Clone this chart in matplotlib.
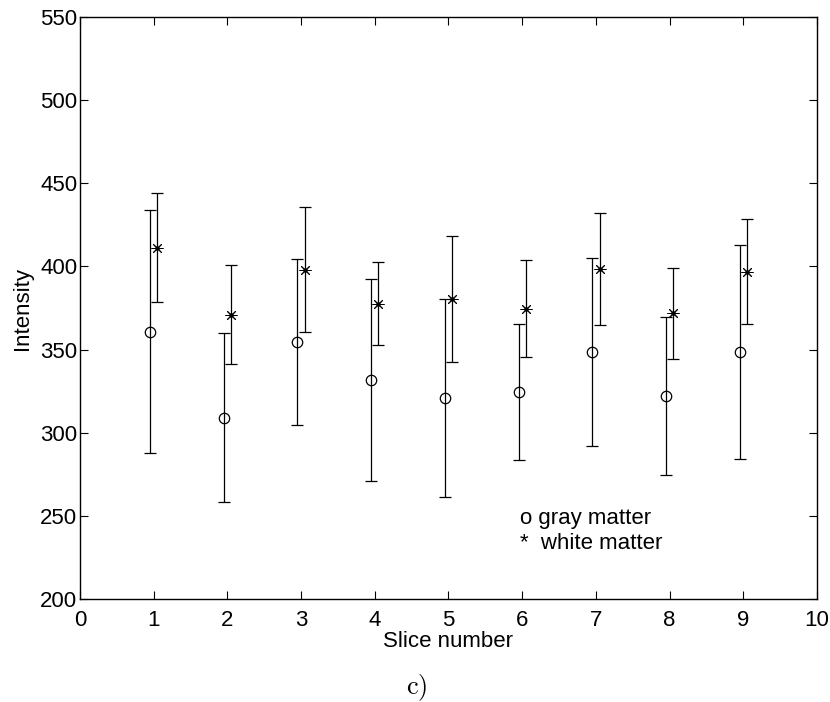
import numpy as np
import matplotlib
matplotlib.use('Agg')
import matplotlib.pyplot as plt

# slice data
slices = [1, 2, 3, 4, 5, 6, 7, 8, 9]
gray_mean = [360.8, 308.9, 354.6, 331.7, 320.9, 324.5, 348.6, 321.9, 348.7]
gray_std = [73.0, 50.8, 49.8, 60.7, 59.8, 41.1, 56.3, 47.6, 64.3]
white_mean = [411.3, 371.0, 398.1, 377.6, 380.6, 374.6, 398.5, 371.8, 396.7]
white_std = [32.9, 29.7, 37.6, 25.0, 37.8, 29.1, 33.9, 27.4, 31.6]

plt.rcParams['font.family'] = ['Liberation Sans', 'DejaVu Sans']
plt.rcParams['mathtext.fontset'] = 'cm'

fig = plt.figure(figsize=(8.3, 7.02), dpi=100)
ax = fig.add_axes([0.0964, 0.1467, 0.8879, 0.8291])

x = np.array(slices)
off = 0.05

# gray matter (circles)
ax.errorbar(x - off, gray_mean, yerr=gray_std, fmt='o', color='black',
            mfc='none', mec='black', ms=7.5, mew=0.9, elinewidth=0.9,
            capsize=4, capthick=0.9)

# white matter (asterisks, 8 arms like matlab '*')
ax.errorbar(x + off, white_mean, yerr=white_std, fmt='none', color='black',
            elinewidth=0.9, capsize=4, capthick=0.9)
ax.plot(x + off, white_mean, linestyle='none', marker=(8, 2, 0),
        color='black', ms=8.5, mew=0.7)
ax.plot(x + off, white_mean, linestyle='none', marker='o',
        color='black', ms=2.2)

ax.set_xlim(0, 10)
ax.set_ylim(200, 550)
ax.set_xticks(range(0, 11))
ax.set_yticks(range(200, 551, 50))
ax.tick_params(direction='in', top=True, right=True, length=5.5, width=0.8,
               labelsize=16)
ax.tick_params(axis='y', pad=2)
ax.tick_params(axis='x', pad=8)
for s in ax.spines.values():
    s.set_linewidth(1.0)

ax.set_xlabel('Slice number', fontsize=16, labelpad=0)
ax.set_ylabel('Intensity', fontsize=16, labelpad=5)

ax.text(5.97, 248.5, 'o gray matter', fontsize=16, va='center')
ax.text(5.97, 233.5, '*  white matter', fontsize=16, va='center')

fig.text(0.502, 0.021, r'$\mathrm{c)}$', fontsize=19, ha='center', va='center')

fig.savefig('out.png', dpi=100)
